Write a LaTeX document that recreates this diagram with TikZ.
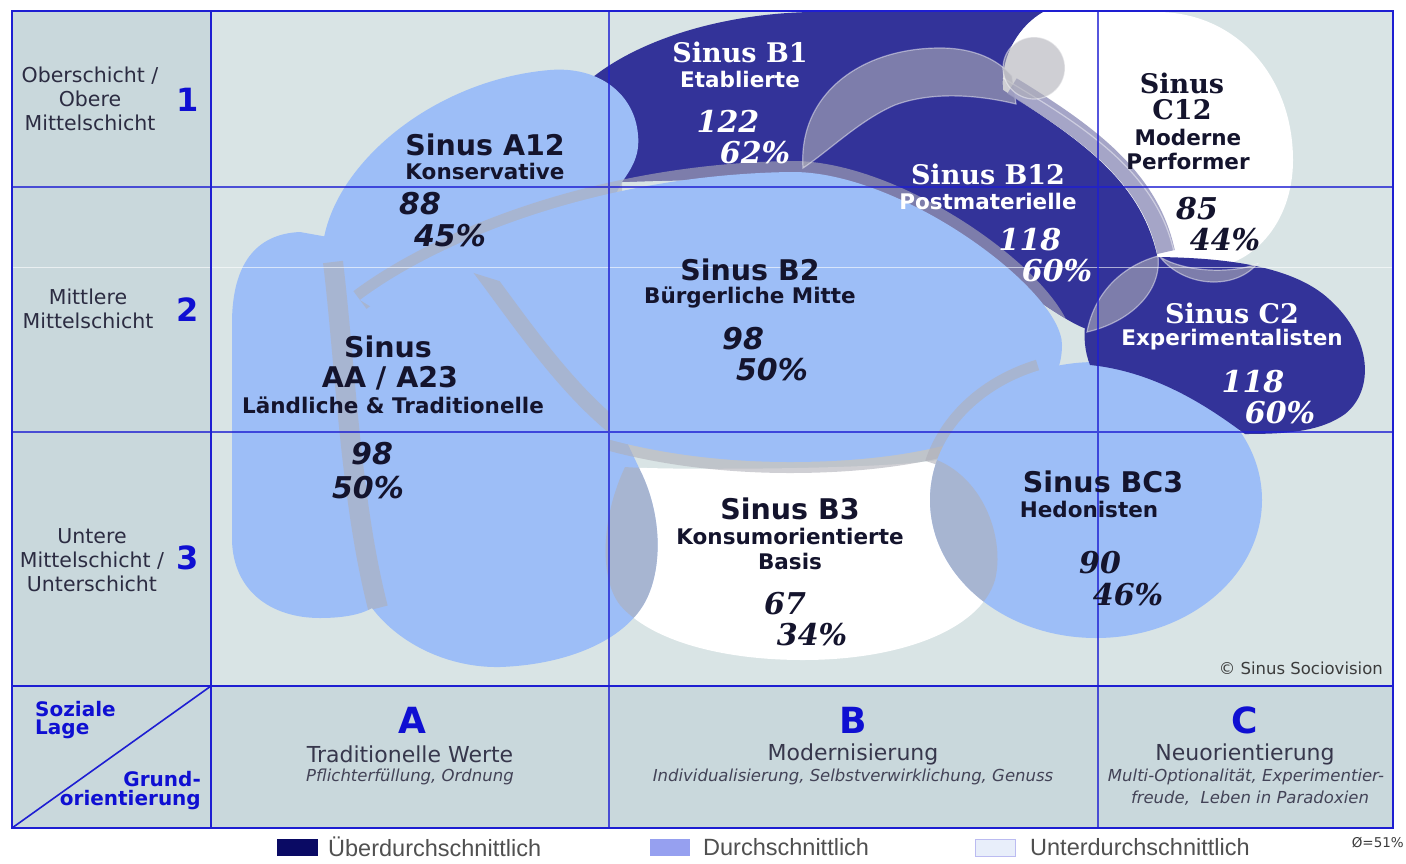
\documentclass[tikz,border=0pt]{standalone}
\usepackage{fontspec}
\setmainfont{DejaVu Sans}
\newfontfamily\serifb{DejaVu Serif}
\newfontfamily\arialf{Liberation Sans}
\newcommand\fsz[1]{\fontsize{#1}{#1}\selectfont}
\definecolor{bgleft}{RGB}{201,216,220}
\definecolor{bgmain}{RGB}{217,228,229}
\definecolor{darkb}{RGB}{51,51,153}
\definecolor{lightb}{RGB}{157,190,247}
\definecolor{ovl}{RGB}{175,175,184}
\definecolor{ovlb}{RGB}{150,150,190}
\definecolor{gridb}{RGB}{30,30,210}
\definecolor{txt}{RGB}{20,20,45}
\definecolor{axisblue}{RGB}{15,15,210}
\definecolor{legdark}{RGB}{10,10,100}
\definecolor{leglight}{RGB}{150,160,240}
\definecolor{legwhite}{RGB}{232,238,250}
\definecolor{greytxt}{RGB}{60,60,60}
\tikzset{
  lens/.style={fill=ovl, fill opacity=.6, draw=white, draw opacity=.45, line width=1.2pt},
  band/.style={draw=ovl, draw opacity=.6},
  rowlab/.style={font=\fontsize{20.5}{24}\selectfont, text=txt!90!white, align=center, inner sep=0pt},
  axnum/.style={font=\fsz{32}\bfseries, text=axisblue, inner sep=0pt},
  ttl/.style={font=\fsz{28.5}\bfseries, text=txt, inner sep=0pt},
  sub/.style={font=\fsz{21.5}\bfseries, text=txt, inner sep=0pt},
  nums/.style={font=\fsz{30}\bfseries\itshape, text=txt, inner sep=0pt},
  sttl/.style={font=\serifb\fsz{27}\bfseries, text=white, inner sep=0pt},
  ssub/.style={font=\fsz{21.5}\bfseries, text=white, inner sep=0pt},
  snums/.style={font=\serifb\fsz{30}\bfseries\itshape, text=white, inner sep=0pt},
  colh/.style={font=\fsz{36}\bfseries, text=axisblue, inner sep=0pt},
  colt/.style={font=\fsz{22}, text=txt!85!white, inner sep=0pt},
  coli/.style={font=\fsz{16.5}\itshape, text=txt!80!white, inner sep=0pt},
  corner/.style={font=\fsz{20}\bfseries, text=axisblue, inner sep=0pt},
  leg/.style={font=\arialf\fsz{23.5}, text=greytxt!90!white, inner sep=0pt, anchor=west},
}
\def\pAA{(300,232) .. controls (255,234) and (233,265) .. (232,320) -- (232,540) .. controls (233,590) and (270,618) .. (320,618) .. controls (345,618) and (362,614) .. (372,608) .. controls (400,645) and (450,668) .. (500,667) .. controls (560,665) and (615,645) .. (640,610) .. controls (662,580) and (665,520) .. (640,470) -- (560,300) -- (400,250) -- cycle}
\def\pAtw{(322,255) .. controls (325,170) and (430,80) .. (550,70) .. controls (600,66) and (635,95) .. (638,135) .. controls (640,155) and (632,168) .. (622,182) -- (560,300) -- (380,300) -- cycle}
\def\pBtwo{(360,300) .. controls (440,240) and (600,175) .. (790,172) .. controls (900,170) and (1062,290) .. (1062,345) .. controls (1062,425) and (940,462) .. (790,462) .. controls (660,462) and (540,430) .. (490,380) -- cycle}
\def\pBtwoTop{(360,300) .. controls (440,240) and (600,175) .. (790,172) .. controls (900,170) and (1062,290) .. (1062,345)}
\def\pBthree{(625,467) .. controls (660,470) and (880,470) .. (937,460) .. controls (985,480) and (1005,540) .. (995,580) .. controls (980,630) and (900,660) .. (803,660) .. controls (720,660) and (650,640) .. (620,605) .. controls (600,580) and (600,520) .. (625,467) -- cycle}
\def\pBCthree{(1096,500) ellipse [x radius=166, y radius=138]}
\def\pCtw{(1003,90) .. controls (1000,55) and (1020,25) .. (1043,12) -- (1160,12) .. controls (1240,14) and (1293,80) .. (1293,160) .. controls (1293,225) and (1250,268) .. (1205,268) .. controls (1185,268) and (1170,263) .. (1158,257) .. controls (1140,180) and (1080,140) .. (1003,90) -- cycle}
\def\pDark{(593,77) .. controls (640,40) and (720,14) .. (810,12) -- (1043,12) .. controls (1020,25) and (1000,55) .. (1003,90) .. controls (1080,140) and (1140,180) .. (1157,255) .. controls (1150,290) and (1120,318) .. (1090,330) .. controls (1050,320) and (950,220) .. (800,185) .. controls (740,178) and (680,180) .. (622,182) -- cycle}
\def\pCtwo{(1090,365) .. controls (1080,340) and (1082,300) .. (1110,280) .. controls (1130,265) and (1145,258) .. (1160,257) .. controls (1210,258) and (1290,262) .. (1330,300) .. controls (1372,338) and (1375,390) .. (1345,414) .. controls (1320,432) and (1285,434) .. (1245,434) .. controls (1215,412) and (1160,372) .. (1090,365) -- cycle}
\begin{document}
\begin{tikzpicture}[x=1pt,y=-1pt]
\useasboundingbox (0,0) rectangle (1406,863);
\fill[white] (0,0) rectangle (1406,863);
% backgrounds
\fill[bgmain] (211,11) rectangle (1393,686);
\fill[bgleft] (12,11) rectangle (211,686);
\fill[bgleft] (12,686) rectangle (1393,828);
% blobs
\fill[white] \pCtw;
\fill[darkb] \pDark;
\fill[white] \pBthree;
\fill[lightb] \pAA;
\fill[lightb] \pAtw;
\begin{scope}
  \clip (0,0) rectangle (622,863);
  \draw[band, line width=22pt] \pBtwoTop;
\end{scope}
\begin{scope}
  \clip \pDark;
  \clip (622,0) rectangle (1406,863);
  \draw[band, line width=22pt] \pBtwoTop;
\end{scope}
\begin{scope}
  \clip (609,375) rectangle (1406,863);
  \draw[band, line width=22pt] (1062,345) .. controls (1062,425) and (940,462) .. (790,462) .. controls (660,462) and (540,430) .. (490,380);
\end{scope}
\fill[lightb] \pBtwo;
\begin{scope}
  \clip \pAA;
  \clip (0,0) rectangle (609,863);
  \draw[band, line width=16pt] (470,255) .. controls (520,320) and (570,400) .. (640,446);
  \draw[band, line width=20pt] (333,262) .. controls (345,360) and (350,500) .. (378,608);
\end{scope}
\draw[band, line width=22pt] (1096,500) ++(195:166 and 138) arc[start angle=195, end angle=250, x radius=166, y radius=138];
\fill[lightb] \pBCthree;
\begin{scope}
  \clip \pBthree;
  \fill[ovl, opacity=.6] \pBCthree;
  \fill[ovl, opacity=.6] \pAA;
\end{scope}
\fill[darkb] \pCtwo;
% overlap lenses
\fill[lens] (803,168) .. controls (798,95) and (860,48) .. (940,48) .. controls (975,48) and (998,60) .. (1012,76) -- (1016,104) .. controls (975,94) and (930,92) .. (895,105) .. controls (860,120) and (830,150) .. (803,168) -- cycle;
\draw[draw=ovlb, draw opacity=.85, line width=18pt] (1012,86) .. controls (1090,134) and (1150,178) .. (1166,252);
\draw[white, opacity=.45, line width=1.2pt] (1003,78) .. controls (1080,124) and (1156,170) .. (1174,252);
\fill[lens] (1034,68) circle [radius=31];
\fill[lens] (1087,332) .. controls (1095,290) and (1125,265) .. (1158,256) .. controls (1162,292) and (1130,322) .. (1087,332) -- cycle;
\fill[lens] (1160,257) .. controls (1185,288) and (1235,290) .. (1257,264) .. controls (1230,274) and (1185,272) .. (1160,257) -- cycle;
% grid
\draw[white, opacity=.6, line width=1pt] (12,267) -- (1393,267);
\draw[gridb, line width=1.4pt, opacity=.75] (12,187) -- (1393,187) (12,432) -- (1393,432) (609,11) -- (609,828) (1098,11) -- (1098,828);
\draw[gridb, line width=1.6pt] (12,686) -- (1393,686) (211,11) -- (211,828) (12,828) -- (211,686);
\draw[gridb, line width=2pt] (12,11) rectangle (1393,828);
% row labels
\node[rowlab] (r1) at (90,99) {Oberschicht /\\Obere\\Mittelschicht};
\node[axnum] (n1) at (188,100) {1};
\node[rowlab] (r2) at (88,309) {Mittlere\\Mittelschicht};
\node[axnum] (n2) at (188,310) {2};
\node[rowlab] (r3) at (92,560) {Untere\\Mittelschicht /\\Unterschicht};
\node[axnum] (n3) at (188,558) {3};
% corner
\node[corner, anchor=west] (soz) at (35,709) {Soziale};
\node[corner, anchor=west] (lage) at (35,729) {Lage};
\node[corner, anchor=east] (grund) at (201,779) {Grund-};
\node[corner, anchor=east] (orient) at (201,800) {orientierung};
% columns
\node[colh] (ca) at (412,720) {A};
\node[colt] (cat) at (410,754) {Traditionelle Werte};
\node[coli] (cai) at (410,777) {Pflichterfüllung, Ordnung};
\node[colh] (cb) at (853,720) {B};
\node[colt] (cbt) at (853,754) {Modernisierung};
\node[coli] (cbi) at (853,777) {Individualisierung, Selbstverwirklichung, Genuss};
\node[colh] (cc) at (1245,720) {C};
\node[colt] (cct) at (1245,754) {Neuorientierung};
\node[coli] (cci) at (1246,777) {Multi-Optionalität, Experimentier-};
\node[coli] (cci2) at (1250,798) {freude,\ \ Leben in Paradoxien};
% milieu labels
\node[ttl] (a12t) at (485,145) {Sinus A12};
\node[sub] (a12s) at (485,171) {Konservative};
\node[nums] (a12n) at (420,204) {88};
\node[nums] (a12p) at (450,236) {45\%};
\node[sttl] (b1t) at (740,52) {Sinus B1};
\node[ssub] (b1s) at (740,79) {Etablierte};
\node[snums] (b1n) at (728,121) {122};
\node[snums] (b1p) at (755,153) {62\%};
\node[sttl] (b12t) at (988,174) {Sinus B12};
\node[ssub] (b12s) at (988,201) {Postmaterielle};
\node[snums] (b12n) at (1030,240) {118};
\node[snums] (b12p) at (1057,271) {60\%};
\node[sttl, text=txt] (c12t) at (1182,83) {Sinus};
\node[sttl, text=txt] (c12u) at (1182,110) {C12};
\node[sub] (c12s) at (1188,137) {Moderne};
\node[sub] (c12v) at (1188,161) {Performer};
\node[snums, text=txt] (c12n) at (1197,209) {85};
\node[snums, text=txt] (c12p) at (1225,240) {44\%};
\node[sttl] (c2t) at (1232,313) {Sinus C2};
\node[ssub] (c2s) at (1232,340) {Experimentalisten};
\node[snums] (c2n) at (1253,382) {118};
\node[snums] (c2p) at (1280,413) {60\%};
\node[ttl] (b2t) at (750,270) {Sinus B2};
\node[sub] (b2s) at (750,297) {Bürgerliche Mitte};
\node[nums] (b2n) at (743,339) {98};
\node[nums] (b2p) at (772,370) {50\%};
\node[ttl] (aat) at (388,347) {Sinus};
\node[ttl] (aau) at (390,378) {AA / A23};
\node[sub] (aas) at (393,405) {Ländliche \& Traditionelle};
\node[nums] (aan) at (372,454) {98};
\node[nums] (aap) at (368,488) {50\%};
\node[ttl] (b3t) at (790,509) {Sinus B3};
\node[sub] (b3s) at (790,536) {Konsumorientierte};
\node[sub] (b3u) at (790,561) {Basis};
\node[snums, text=txt] (b3n) at (785,604) {67};
\node[snums, text=txt] (b3p) at (812,635) {34\%};
\node[ttl] (bc3t) at (1103,482) {Sinus BC3};
\node[sub] (bc3s) at (1089,509) {Hedonisten};
\node[snums, text=txt] (bc3n) at (1100,563) {90};
\node[snums, text=txt] (bc3p) at (1128,595) {46\%};
\node[font=\fsz{16.5}, text=greytxt, inner sep=0pt, anchor=east] (copy) at (1383,668) {© Sinus Sociovision};
% legend
\fill[legdark] (277,839) rectangle (318,856);
\node[leg] (l1) at (328,847) {Überdurchschnittlich};
\fill[leglight] (650,839) rectangle (690,856);
\node[leg] (l2) at (703,847) {Durchschnittlich};
\fill[legwhite] (975,839) rectangle (1015,856);
\draw[gridb!30!white, line width=.6pt] (975,839) rectangle (1015,856);
\node[leg] (l3) at (1030,847) {Unterdurchschnittlich};
\node[font=\fsz{13.5}, text=greytxt, inner sep=0pt, anchor=east] (avg) at (1404,843) {Ø=51\%};
\end{tikzpicture}
\end{document}
